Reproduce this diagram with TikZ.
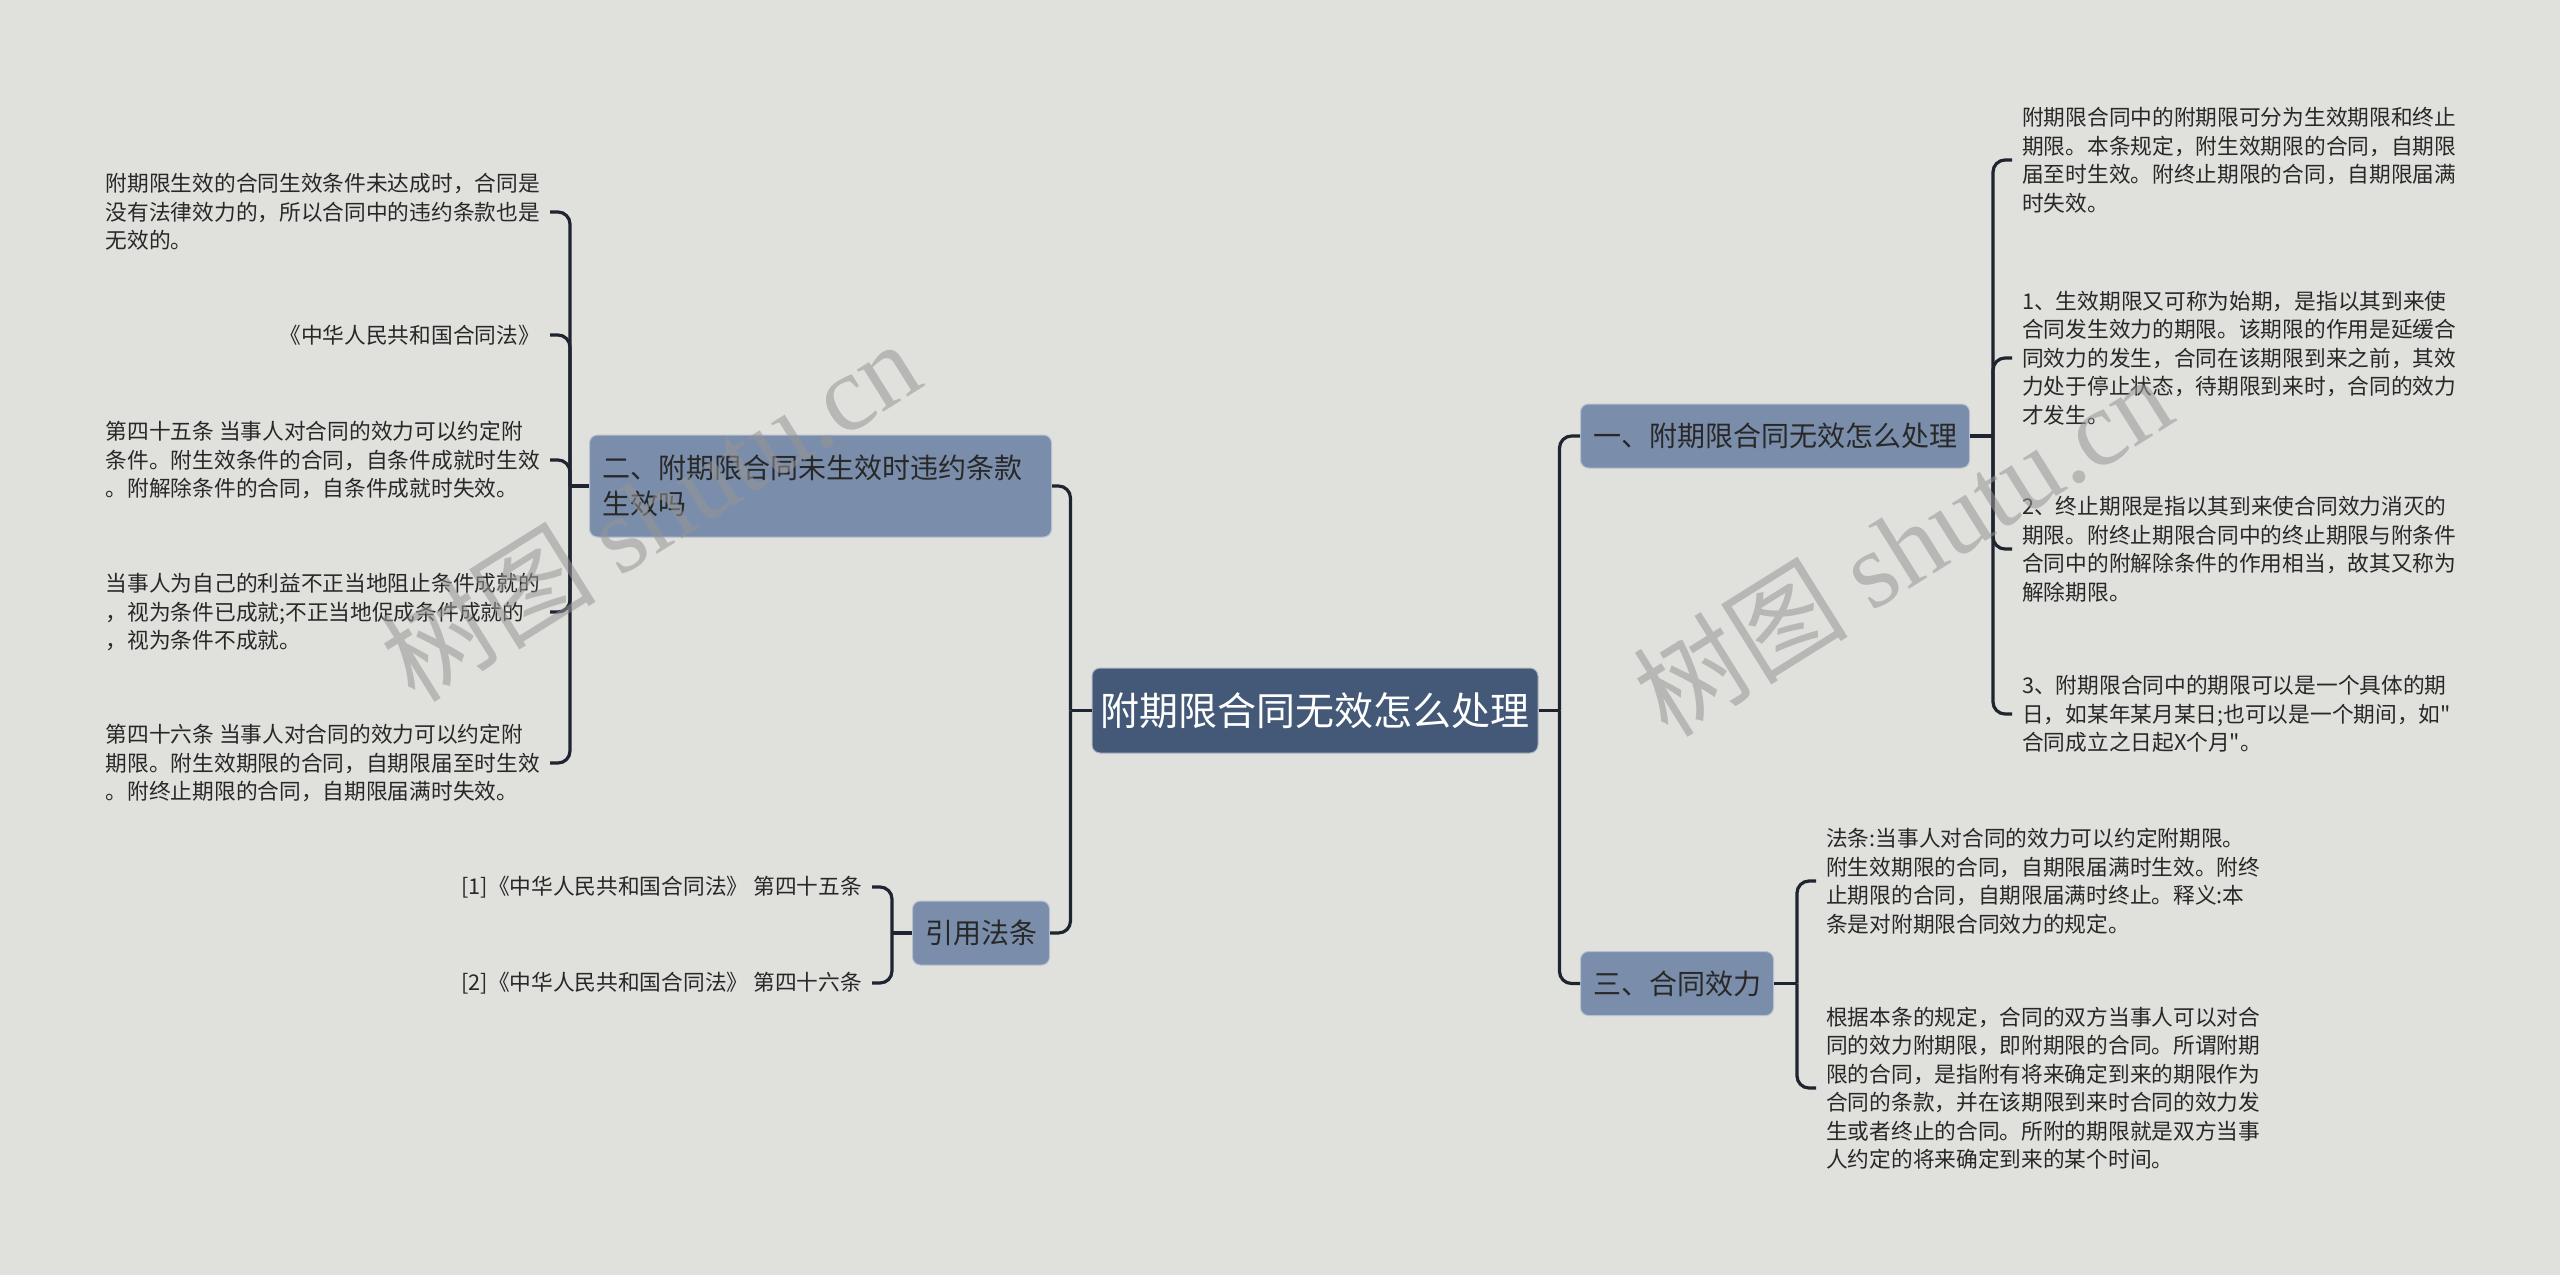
\documentclass[tikz,border=0pt]{standalone}
\usepackage{fontspec}
\setmainfont{Noto Sans CJK SC}
\newfontfamily\plainq{Noto Sans CJK SC}
\newfontfamily\wmserif{Liberation Serif}
\definecolor{bg}{RGB}{224,225,220}
\definecolor{rootfill}{RGB}{68,89,120}
\definecolor{branchfill}{RGB}{122,141,170}
\definecolor{linec}{RGB}{30,36,48}
\definecolor{txt}{RGB}{40,40,40}
\definecolor{wm}{RGB}{150,150,150}
\tikzset{
 rootbox/.style={fill=rootfill, draw=white!55!rootfill, line width=1pt, rounded corners=8pt, text=white,
   font=\fontsize{39}{47}\selectfont, minimum width=446pt, minimum height=85pt, inner sep=0pt},
 branchbox/.style={fill=branchfill, draw=white!45!branchfill, line width=1pt, rounded corners=8pt, text=txt,
   font=\fontsize{28}{36}\selectfont, inner xsep=12.5pt, inner ysep=0pt, minimum height=64pt},
 leaf/.style={text=txt, font=\fontsize{21.7}{28.5}\selectfont, align=left, inner xsep=10pt, inner ysep=0pt},
 conn/.style={draw=linec, line width=3.2pt, rounded corners=12pt},
 wmark/.style={text=wm, opacity=0.55, rotate=32, font=\fontsize{108}{112}\selectfont, inner sep=0pt},
}
\begin{document}
\begin{tikzpicture}[x=1pt,y=-1pt]
\fill[bg] (0,0) rectangle (2560,1275);
\useasboundingbox (0,0) rectangle (2560,1275);

% main nodes
\node[rootbox] (root) at (1315,710.5) {附期限合同无效怎么处理};
\node[branchbox, anchor=west] (b1) at (1580,436) {一、附期限合同无效怎么处理};
\node[branchbox, anchor=west] (b3) at (1580,983.5) {三、合同效力};
\node[branchbox, anchor=east, text width=436pt, align=left, inner xsep=13pt, minimum height=102pt] (b2) at (1052,486) {二、附期限合同未生效时违约条款\\生效吗};
\node[branchbox, anchor=east] (b4) at (1050,933) {引用法条};

% leaves of b1
\node[leaf, anchor=west] (l11) at (2012,160) {附期限合同中的附期限可分为生效期限和终止\\期限。本条规定，附生效期限的合同，自期限\\届至时生效。附终止期限的合同，自期限届满\\时失效。};
\node[leaf, anchor=west] (l12) at (2012,358) {1、生效期限又可称为始期，是指以其到来使\\合同发生效力的期限。该期限的作用是延缓合\\同效力的发生，合同在该期限到来之前，其效\\力处于停止状态，待期限到来时，合同的效力\\才发生。};
\node[leaf, anchor=west] (l13) at (2012,549) {2、终止期限是指以其到来使合同效力消灭的\\期限。附终止期限合同中的终止期限与附条件\\合同中的附解除条件的作用相当，故其又称为\\解除期限。};
\node[leaf, anchor=west] (l14) at (2012,714) {3、附期限合同中的期限可以是一个具体的期\\日，如某年某月某日;也可以是一个期间，如{\plainq"}\\合同成立之日起X个月{\plainq"}。};

% leaves of b3
\node[leaf, anchor=west] (l31) at (1816,881) {法条:当事人对合同的效力可以约定附期限。\\附生效期限的合同，自期限届满时生效。附终\\止期限的合同，自期限届满时终止。释义:本\\条是对附期限合同效力的规定。};
\node[leaf, anchor=west] (l32) at (1816,1088) {根据本条的规定，合同的双方当事人可以对合\\同的效力附期限，即附期限的合同。所谓附期\\限的合同，是指附有将来确定到来的期限作为\\合同的条款，并在该期限到来时合同的效力发\\生或者终止的合同。所附的期限就是双方当事\\人约定的将来确定到来的某个时间。};

% leaves of b2
\node[leaf, anchor=east] (l21) at (550,212) {附期限生效的合同生效条件未达成时，合同是\\没有法律效力的，所以合同中的违约条款也是\\无效的。};
\node[leaf, anchor=east] (l22) at (550,335) {《中华人民共和国合同法》};
\node[leaf, anchor=east] (l23) at (550,460) {第四十五条 当事人对合同的效力可以约定附\\条件。附生效条件的合同，自条件成就时生效\\。附解除条件的合同，自条件成就时失效。};
\node[leaf, anchor=east] (l24) at (550,612) {当事人为自己的利益不正当地阻止条件成就的\\，视为条件已成就;不正当地促成条件成就的\\，视为条件不成就。};
\node[leaf, anchor=east] (l25) at (550,763) {第四十六条 当事人对合同的效力可以约定附\\期限。附生效期限的合同，自期限届至时生效\\。附终止期限的合同，自期限届满时失效。};

% leaves of b4
\node[leaf, anchor=east] (l41) at (872,887) {[1]《中华人民共和国合同法》 第四十五条};
\node[leaf, anchor=east] (l42) at (872,983) {[2]《中华人民共和国合同法》 第四十六条};

% connectors: root
\draw[conn] (root.east) -- ++(21,0) coordinate (jR);
\draw[conn] (jR) |- (b1.west);
\draw[conn] (jR) |- (b3.west);
\draw[conn] (root.west) -- ++(-21,0) coordinate (jL);
\draw[conn] (jL) |- (b2.east);
\draw[conn] (jL) |- (b4.east);

% connectors: b1
\draw[conn] (b1.east) -- ++(23,0) coordinate (j1);
\foreach \n in {l11,l12,l13,l14} \draw[conn] (j1) |- (\n.west);
% connectors: b3
\draw[conn] (b3.east) -- ++(23,0) coordinate (j3);
\foreach \n in {l31,l32} \draw[conn] (j3) |- (\n.west);
% connectors: b2
\draw[conn] (b2.west) -- ++(-19,0) coordinate (j2);
\foreach \n in {l21,l22,l23,l24,l25} \draw[conn] (j2) |- (\n.east);
% connectors: b4
\draw[conn] (b4.west) -- ++(-20,0) coordinate (j4);
\foreach \n in {l41,l42} \draw[conn] (j4) |- (\n.east);

% watermarks
\node[wmark] (wm1) at (650,510) {树图 {\wmserif shutu.cn}};
\node[wmark] (wm2) at (1902,545) {树图 {\wmserif shutu.cn}};
\end{tikzpicture}
\end{document}
